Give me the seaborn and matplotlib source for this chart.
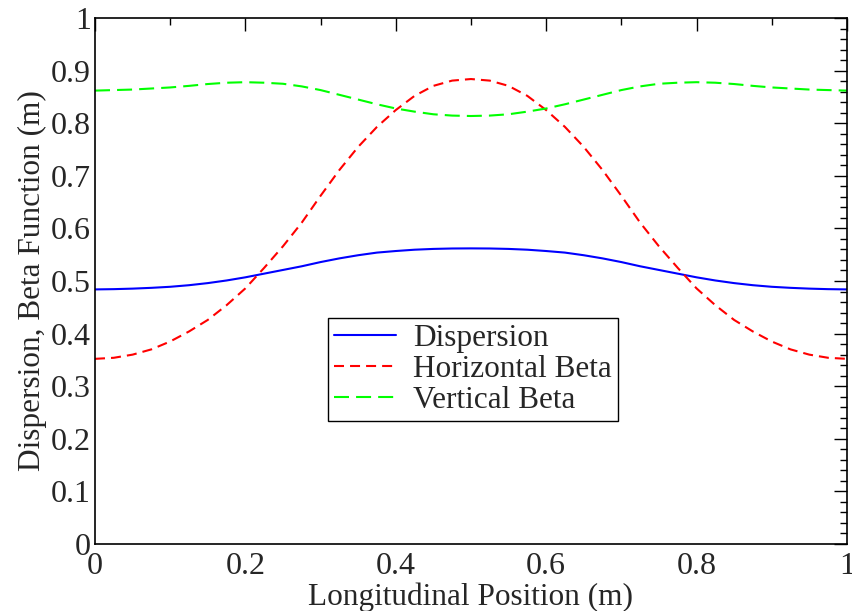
import numpy as np
import pandas as pd
import matplotlib
matplotlib.use("Agg")
import matplotlib.pyplot as plt
from matplotlib.ticker import MultipleLocator, FuncFormatter
import seaborn as sns

# Lattice functions sampled every 2.5 cm along one cell
position = [0.000, 0.025, 0.050, 0.075, 0.100, 0.125, 0.150, 0.175, 0.200, 0.225,
            0.250, 0.275, 0.300, 0.325, 0.350, 0.375, 0.400, 0.425, 0.450, 0.475,
            0.500, 0.525, 0.550, 0.575, 0.600, 0.625, 0.650, 0.675, 0.700, 0.725,
            0.750, 0.775, 0.800, 0.825, 0.850, 0.875, 0.900, 0.925, 0.950, 0.975, 1.000]
dispersion = [0.4840, 0.4845, 0.4855, 0.4870, 0.4890, 0.4920, 0.4960, 0.5010, 0.5070, 0.5140,
              0.5210, 0.5280, 0.5360, 0.5430, 0.5490, 0.5540, 0.5570, 0.5595, 0.5610, 0.5618,
              0.5620, 0.5618, 0.5610, 0.5595, 0.5570, 0.5540, 0.5490, 0.5430, 0.5360, 0.5280,
              0.5210, 0.5140, 0.5070, 0.5010, 0.4960, 0.4920, 0.4890, 0.4870, 0.4855, 0.4845, 0.4840]
beta_horizontal = [0.352, 0.354, 0.360, 0.370, 0.385, 0.404, 0.426, 0.454, 0.486, 0.525,
                   0.566, 0.611, 0.662, 0.711, 0.755, 0.793, 0.825, 0.852, 0.871, 0.881,
                   0.884, 0.881, 0.871, 0.852, 0.825, 0.793, 0.755, 0.711, 0.662, 0.611,
                   0.566, 0.525, 0.486, 0.454, 0.426, 0.404, 0.385, 0.370, 0.360, 0.354, 0.352]
beta_vertical = [0.8620, 0.8630, 0.8640, 0.8660, 0.8680, 0.8710, 0.8745, 0.8770, 0.8780, 0.8770,
                 0.8750, 0.8700, 0.8630, 0.8540, 0.8450, 0.8360, 0.8280, 0.8220, 0.8170, 0.8145,
                 0.8137, 0.8145, 0.8170, 0.8220, 0.8280, 0.8360, 0.8450, 0.8540, 0.8630, 0.8700,
                 0.8750, 0.8770, 0.8780, 0.8770, 0.8745, 0.8710, 0.8680, 0.8660, 0.8640, 0.8630, 0.8620]

series_names = ["Dispersion", "Horizontal Beta", "Vertical Beta"]
series_values = [dispersion, beta_horizontal, beta_vertical]
series_colors = ["#0000ff", "#ff0000", "#00ff00"]
series_dashes = [None, (4.8, 2.9), (7.2, 3.4)]

sns.set_style("white")
plt.rcParams["font.family"] = ["Liberation Serif", "DejaVu Serif"]

fig = plt.figure(figsize=(8.52, 6.11), dpi=100)
ax = fig.add_axes([0.1115, 0.1097, 0.8825, 0.8608])

frames = []
for name, vals in zip(series_names, series_values):
    frames.append(pd.DataFrame({"position": position, "value": vals, "series": name}))
df = pd.concat(frames, ignore_index=True)

for name, color, dash in zip(series_names, series_colors, series_dashes):
    sub = df[df["series"] == name]
    sns.lineplot(data=sub, x="position", y="value", ax=ax,
                 color=color, linewidth=1.5, label=name, sort=False)
    line = ax.lines[-1]
    line.set_solid_joinstyle("round")
    if dash is not None:
        line.set_dashes(dash)
        line.set_dash_capstyle("butt")

ax.set_xlim(0, 1)
ax.set_ylim(0, 1)
ax.xaxis.set_major_locator(MultipleLocator(0.2))
ax.xaxis.set_minor_locator(MultipleLocator(0.1))
ax.yaxis.set_major_locator(MultipleLocator(0.1))
ax.yaxis.set_minor_locator(MultipleLocator(0.02))
fmt = FuncFormatter(lambda v, p: "%g" % round(v, 3))
ax.xaxis.set_major_formatter(fmt)
ax.yaxis.set_major_formatter(fmt)

ax.tick_params(which="both", direction="in", top=True, right=True,
               labelsize=23, color="black", width=1.0)
ax.tick_params(which="major", length=9.5)
ax.tick_params(which="minor", length=5)
ax.tick_params(axis="x", which="major", pad=6)
ax.tick_params(axis="y", which="major", pad=3)

for sp in ax.spines.values():
    sp.set_visible(True)
    sp.set_color("black")
    sp.set_linewidth(1.2)

ax.set_xlabel("Longitudinal Position (m)", fontsize=22.5, labelpad=1)
ax.set_ylabel("Dispersion, Beta Function (m)", fontsize=22.5, labelpad=3)

leg = ax.legend(loc="lower left", bbox_to_anchor=(0.31, 0.234), fontsize=22.5,
                frameon=True, fancybox=False, handlelength=2.0, handletextpad=0.55,
                labelspacing=0.07, borderpad=0.18, borderaxespad=0.0)
leg.get_frame().set_edgecolor("black")
leg.get_frame().set_linewidth(1.0)
leg.get_frame().set_alpha(1.0)

fig.savefig("out.png", dpi=100)
